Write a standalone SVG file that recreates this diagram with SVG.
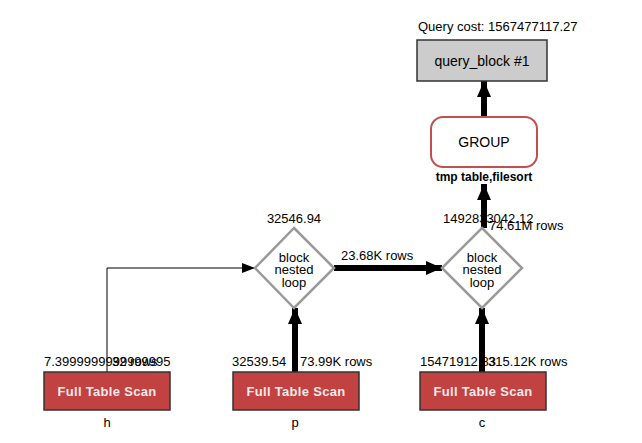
<svg xmlns="http://www.w3.org/2000/svg" width="642" height="443" viewBox="0 0 642 443">
<style>
text{font-family:"Liberation Sans",Arial,sans-serif;fill:#000}
.t{font-size:13px}
.b{font-weight:bold}
.scan{fill:#c24141;stroke:#333;stroke-width:1.5}
.scantext{font-size:13px;font-weight:bold;fill:#f4eaea;text-anchor:middle;letter-spacing:0.3px}
.dia{fill:#fff;stroke:#999;stroke-width:2.5}
.thick{stroke:#000;stroke-width:6;fill:none}
.thin{stroke:#000;stroke-width:1;fill:none}
.c{text-anchor:middle}
</style>
<defs>
<marker id="ah" markerUnits="userSpaceOnUse" markerWidth="16" markerHeight="16" viewBox="0 0 16 16" refX="16" refY="8" orient="auto">
<path d="M0,1 L16,8 L0,15 Z" fill="#000"/>
</marker>
<marker id="ahs" markerUnits="userSpaceOnUse" markerWidth="13" markerHeight="10" viewBox="0 0 13 10" refX="13" refY="5" orient="auto">
<path d="M0,0 L13,5 L0,10 Z" fill="#000"/>
</marker>
</defs>
<rect width="642" height="443" fill="#fff"/>
<g id="connectors">
<path class="thin" d="M107,372 V268 H255" marker-end="url(#ahs)"/>
<path class="thick" d="M295,372 V308" marker-end="url(#ah)"/>
<path class="thick" d="M334,268 H442" marker-end="url(#ah)"/>
<path class="thick" d="M482,372 V308" marker-end="url(#ah)"/>
<path class="thick" d="M484,228 V184" marker-end="url(#ah)"/>
<path class="thick" d="M484,117 V81" marker-end="url(#ah)"/>
<text class="t" x="341" y="260">23.68K rows</text>
<text class="t" x="489" y="230">74.61M rows</text>
<text class="t" x="300" y="366">73.99K rows</text>
<text class="t" x="488" y="366">315.12K rows</text>
<text class="t" x="112" y="366">32 rows</text>
</g>
<g id="query_block">
<text class="t" x="418" y="31">Query cost: 1567477117.27</text>
<rect x="417" y="40" width="130" height="41" fill="#cccccc" stroke="#333" stroke-width="1.5"/>
<text class="c" x="482" y="66" font-size="14">query_block #1</text>
</g>
<g id="group">
<rect x="431" y="117" width="106" height="50" rx="12" fill="#fff" stroke="#c0504d" stroke-width="2"/>
<text class="c" x="484" y="147" font-size="14">GROUP</text>
<text class="c b" x="484" y="181" font-size="12">tmp table,filesort</text>
</g>
<g id="nested_loop_1">
<text class="t c" x="294" y="223">32546.94</text>
<polygon class="dia" points="294,228 334,268 294,308 255,268"/>
<text class="t c" x="294" y="262">block</text>
<text class="t c" x="294" y="274">nested</text>
<text class="t c" x="294" y="287">loop</text>
</g>
<g id="nested_loop_2">
<text class="t" x="443" y="223">1492833042.12</text>
<polygon class="dia" points="482,228 522,268 482,308 442,268"/>
<text class="t c" x="482" y="262">block</text>
<text class="t c" x="482" y="274">nested</text>
<text class="t c" x="482" y="287">loop</text>
</g>
<g id="scan_h">
<text class="t" x="44" y="366">7.3999999999999995</text>
<rect class="scan" x="44" y="372" width="126" height="38"/>
<text class="scantext" x="107" y="396">Full Table Scan</text>
<text class="t c" x="107" y="427">h</text>
</g>
<g id="scan_p">
<text class="t" x="232" y="366">32539.54</text>
<rect class="scan" x="233" y="372" width="126" height="38"/>
<text class="scantext" x="296" y="396">Full Table Scan</text>
<text class="t c" x="295" y="427">p</text>
</g>
<g id="scan_c">
<text class="t" x="420" y="366">15471912.83</text>
<rect class="scan" x="420" y="372" width="126" height="38"/>
<text class="scantext" x="483" y="396">Full Table Scan</text>
<text class="t c" x="482" y="427">c</text>
</g>
</svg>
